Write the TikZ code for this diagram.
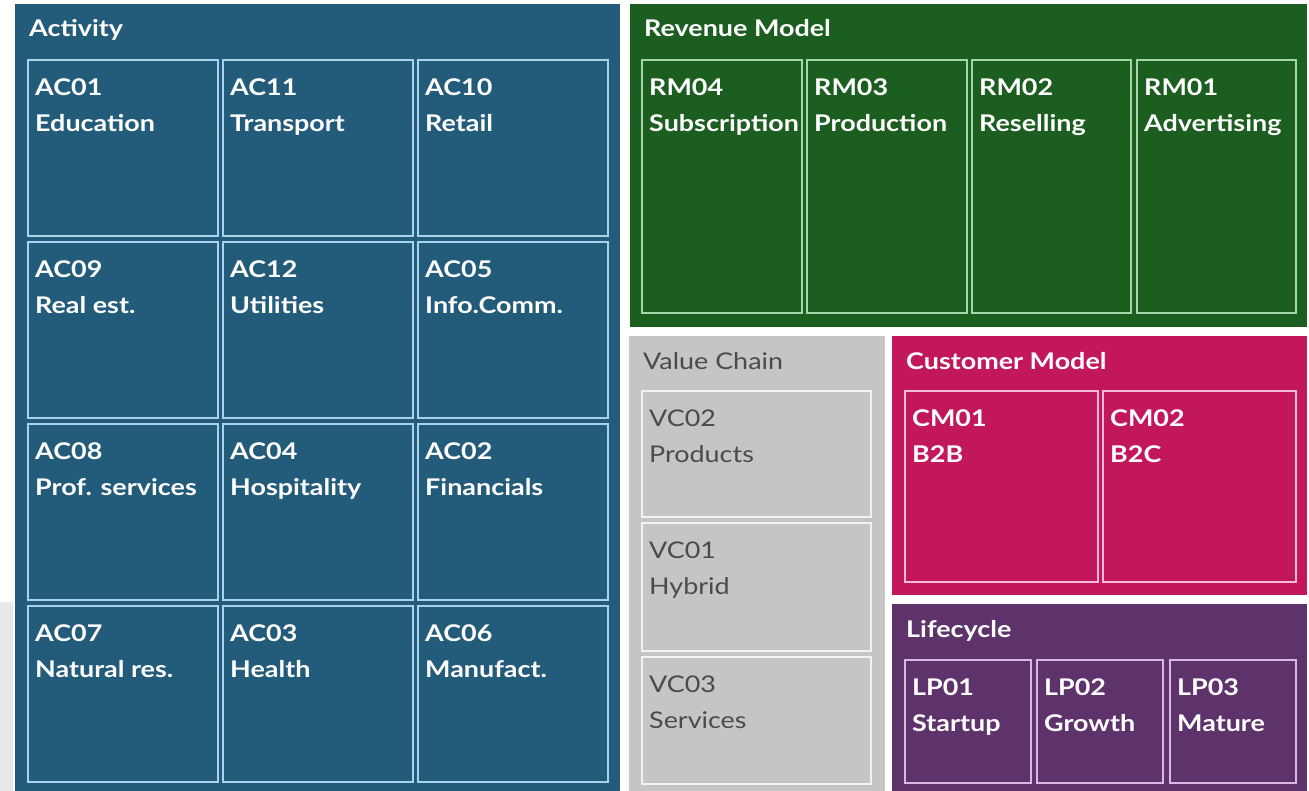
\documentclass[tikz,border=0pt]{standalone}
\usepackage{fontspec}
\setmainfont{Lato}[FakeStretch=1.17]
\usetikzlibrary{calc}

% panel colours and their lighter cell outlines
\definecolor{actfill}{HTML}{235B7A}
\definecolor{actline}{HTML}{A9D3EA}
\definecolor{revfill}{HTML}{1B5E20}
\definecolor{revline}{HTML}{A5D6A7}
\definecolor{valfill}{HTML}{C4C5C4}
\definecolor{valline}{HTML}{F2F2F2}
\definecolor{valtext}{HTML}{4A4C4C}
\definecolor{cusfill}{HTML}{C2185B}
\definecolor{cusline}{HTML}{F8BBD9}
\definecolor{lifill}{HTML}{5E326A}
\definecolor{liline}{HTML}{D9B8E3}
\definecolor{sidegray}{HTML}{E8E8E8}

\newcommand{\twolines}[2]{\begin{tabular}[t]{@{}l@{}}#1\\#2\end{tabular}}

\tikzset{
  panel/.style={anchor=north west, inner sep=0pt, outer sep=0pt, draw=none},
  cellbox/.style={anchor=north west, inner sep=0pt, outer sep=0pt, line width=1.6pt},
  caption/.style={anchor=base west, inner sep=0pt, font=\bfseries\fontsize{23}{36}\selectfont},
  celltext/.style={anchor=base west, inner sep=0pt, font=\bfseries\fontsize{23}{36}\selectfont},
  graytext/.style={text=valtext, font=\fontsize{23}{36}\selectfont},
}

\begin{document}
\begin{tikzpicture}[x=1pt, y=-1pt]
\useasboundingbox (0,0) rectangle (1309,791);
\fill[white] (0,0) rectangle (1309,791);
\fill[sidegray] (0,602) rectangle (13,791);

% ---------- Activity ----------
\node[panel, fill=actfill, minimum width=605, minimum height=787] (act) at (15,4) {};
\node[caption, text=white] (actcap) at ($(act.north west)+(14,33)$) {Activity};
\foreach \nm/\code/\lab/\cx/\cy in {
  ac01/AC01/Education/28/60, ac11/AC11/Transport/223/60, ac10/AC10/Retail/418/60,
  ac09/AC09/Real est./28/242, ac12/AC12/Utilities/223/242, ac05/AC05/Info.Comm./418/242,
  ac08/AC08/Prof. services/28/424, ac04/AC04/Hospitality/223/424, ac02/AC02/Financials/418/424,
  ac07/AC07/Natural res./28/606, ac03/AC03/Health/223/606, ac06/AC06/Manufact./418/606}{
  \node[cellbox, draw=actline, minimum width=190, minimum height=176] (\nm) at (\cx,\cy) {};
  \node[celltext, text=white] (\nm-t) at ($(\nm.north west)+(7,35.5)$) {\twolines{\code}{\lab}};
}

% ---------- Revenue Model ----------
\node[panel, fill=revfill, minimum width=677, minimum height=323] (rev) at (630,4) {};
\node[caption, text=white] (revcap) at ($(rev.north west)+(14,33)$) {Revenue Model};
\foreach \nm/\code/\lab/\cx/\cw in {
  rm04/RM04/Subscription/642/160, rm03/RM03/Production/807/160,
  rm02/RM02/Reselling/972/159, rm01/RM01/Advertising/1137/159}{
  \node[cellbox, draw=revline, minimum width=\cw, minimum height=253] (\nm) at (\cx,60) {};
  \node[celltext, text=white] (\nm-t) at ($(\nm.north west)+(7,35.5)$) {\twolines{\code}{\lab}};
}

% ---------- Value Chain ----------
\node[panel, fill=valfill, minimum width=256, minimum height=455] (val) at (629,336) {};
\node[caption, graytext] (valcap) at ($(val.north west)+(14,34)$) {Value Chain};
\foreach \nm/\code/\lab/\cy/\ch in {
  vc02/VC02/Products/391/126, vc01/VC01/Hybrid/523/128, vc03/VC03/Services/657/127}{
  \node[cellbox, draw=valline, minimum width=229, minimum height=\ch] (\nm) at (642,\cy) {};
  \node[celltext, graytext] (\nm-t) at ($(\nm.north west)+(7,35.5)$) {\twolines{\code}{\lab}};
}

% ---------- Customer Model ----------
\node[panel, fill=cusfill, minimum width=415, minimum height=259] (cus) at (892,336) {};
\node[caption, text=white] (cuscap) at ($(cus.north west)+(14,34)$) {Customer Model};
\foreach \nm/\code/\lab/\cx in {cm01/CM01/B2B/905, cm02/CM02/B2C/1103}{
  \node[cellbox, draw=cusline, minimum width=193, minimum height=191] (\nm) at (\cx,391) {};
  \node[celltext, text=white] (\nm-t) at ($(\nm.north west)+(7,35.5)$) {\twolines{\code}{\lab}};
}

% ---------- Lifecycle ----------
\node[panel, fill=lifill, minimum width=415, minimum height=187] (lif) at (892,604) {};
\node[caption, text=white] (lifcap) at ($(lif.north west)+(14,33)$) {Lifecycle};
\foreach \nm/\code/\lab/\cx in {lp01/LP01/Startup/905, lp02/LP02/Growth/1037, lp03/LP03/Mature/1170}{
  \node[cellbox, draw=liline, minimum width=126, minimum height=123] (\nm) at (\cx,660) {};
  \node[celltext, text=white] (\nm-t) at ($(\nm.north west)+(7,35.5)$) {\twolines{\code}{\lab}};
}
\end{tikzpicture}
\end{document}
